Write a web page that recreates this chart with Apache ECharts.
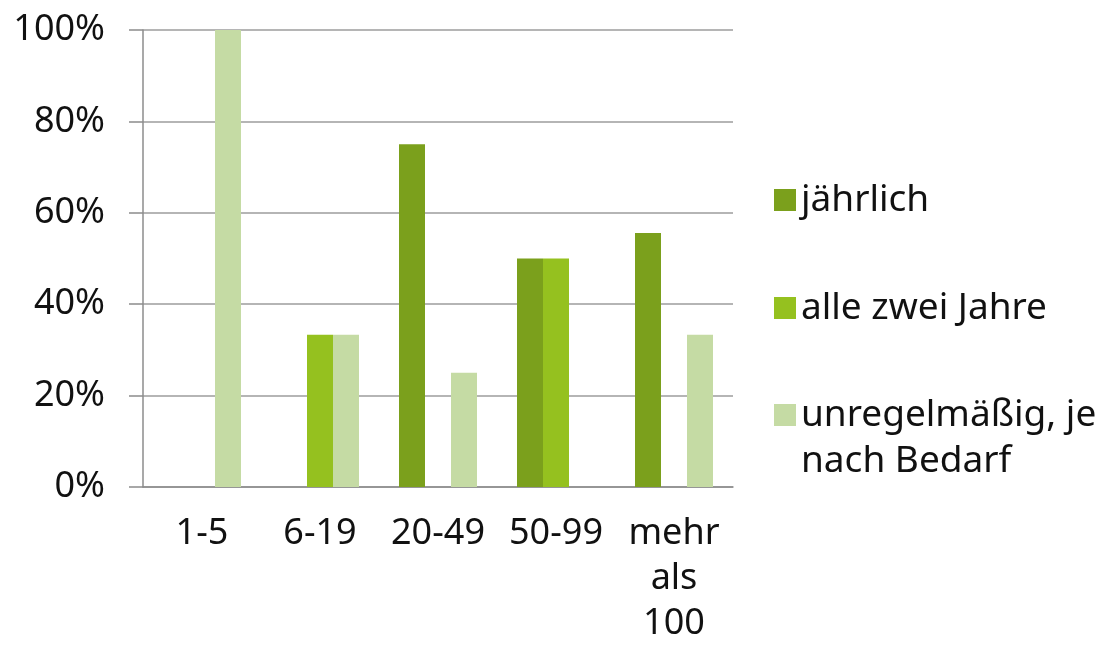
<!DOCTYPE html>
<html>
<head>
<meta charset="utf-8">
<script src="https://cdn.jsdelivr.net/npm/echarts@6/dist/echarts.min.js"></script>
<style>
  html, body { margin: 0; padding: 0; background: #fff; }
  #main { width: 1110px; height: 647px; }
</style>
</head>
<body>
<div id="main"></div>
<script>
// Größenklassen (Beschäftigte)
const categories = ['1-5', '6-19', '20-49', '50-99', 'mehr\nals\n100']
const seriesNames = ['jährlich', 'alle zwei Jahre', 'unregelmäßig, je nach Bedarf']
// Anteile in %
const jaehrlich = [null, null, 75, 50, 55.6]
const alleZweiJahre = [null, 33.3, null, 50, null]
const unregelmaessig = [100, 33.3, 25, null, 33.3]
const yTicks = [0, 20, 40, 60, 80, 100]

const colors = ['#7ba01c', '#95c11f', '#c5dba4']
const fontFamily = '"Noto Sans", sans-serif'

const chart = echarts.init(document.getElementById('main'))

const legendBase = {
  orient: 'vertical',
  left: 774,
  padding: 0,
  icon: 'rect',
  itemWidth: 22,
  itemHeight: 22,
  selectedMode: false,
  textStyle: { fontFamily, fontSize: 37, color: '#111', lineHeight: 46 }
}

chart.setOption({
  animation: false,
  color: colors,
  grid: { left: 143, right: 377, top: 30, bottom: 160 },
  legend: [
    Object.assign({}, legendBase, { top: 177, data: [seriesNames[0]] }),
    Object.assign({}, legendBase, { top: 285, data: [seriesNames[1]] }),
    Object.assign({}, legendBase, {
      top: 346,
      data: [seriesNames[2]],
      // erste Zeile auf Höhe des Symbols
      formatter: () => '\nunregelmäßig, je\nnach Bedarf'
    })
  ],
  xAxis: {
    type: 'category',
    data: categories,
    axisLine: { lineStyle: { color: '#8c8c8c', width: 1.5 } },
    axisTick: { length: 14, lineStyle: { color: '#8c8c8c', width: 1.5 } },
    axisLabel: {
      margin: 24,
      fontFamily,
      fontSize: 36,
      lineHeight: 45,
      color: '#111',
      interval: 0
    }
  },
  yAxis: {
    type: 'value',
    min: 0,
    max: 100,
    interval: 20,
    axisLine: { show: true, lineStyle: { color: '#8c8c8c', width: 1.5 } },
    axisTick: { show: true, length: 14, lineStyle: { color: '#8c8c8c', width: 1.5 } },
    splitLine: { lineStyle: { color: '#b5b5b5', width: 2 } },
    axisLabel: {
      margin: 38,
      fontFamily,
      fontSize: 36,
      color: '#111',
      formatter: v => yTicks.includes(v) ? v + '%' : ''
    }
  },
  series: [
    { name: seriesNames[0], type: 'bar', data: jaehrlich, barWidth: 26, barGap: '0%' },
    { name: seriesNames[1], type: 'bar', data: alleZweiJahre, barWidth: 26, barGap: '0%' },
    { name: seriesNames[2], type: 'bar', data: unregelmaessig, barWidth: 26, barGap: '0%' }
  ]
})
</script>
</body>
</html>
